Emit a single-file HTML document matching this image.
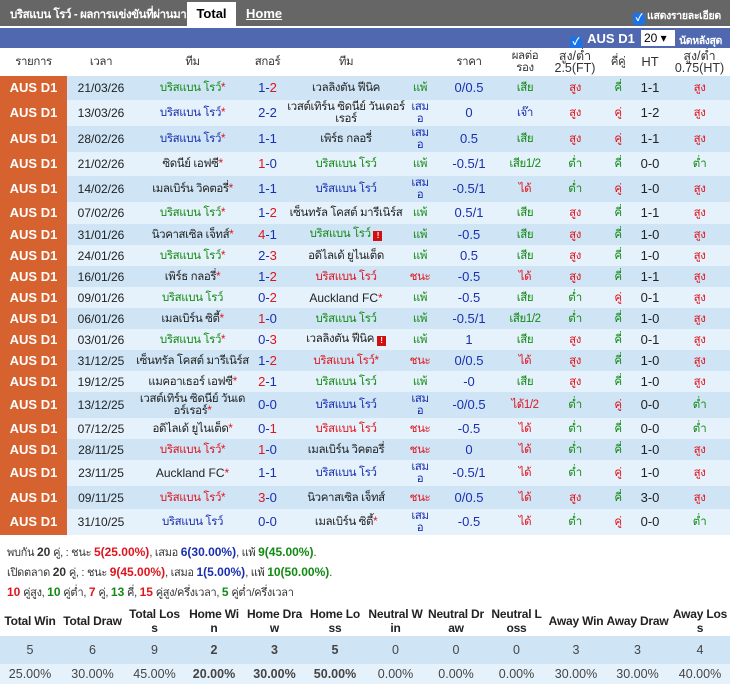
<!DOCTYPE html>
<html><head><meta charset="utf-8"><style>
*{margin:0;padding:0;box-sizing:border-box}
body{width:730px;height:684px;background:#fff;font-family:"Liberation Sans","Noto Sans CJK SC",sans-serif;font-size:11px;color:#222;position:relative;overflow:hidden}
.top{position:absolute;left:0;top:0;width:730px;height:26px;background:#666;color:#fff}
.top .t{position:absolute;left:10px;top:6px;font-size:11.5px;font-weight:bold;white-space:nowrap;letter-spacing:-0.4px}
.tab1{position:absolute;left:187px;top:2px;width:49px;height:24px;background:#fff;color:#000;font-weight:bold;font-size:13px;text-align:center;line-height:24px}
.tab2{position:absolute;left:246px;top:6px;color:#fff;font-weight:bold;font-size:13px;text-decoration:underline}
.chk{display:inline-block;width:12px;height:12px;background:#1a73e8;border-radius:2px;color:#fff;font-size:10px;line-height:12px;text-align:center;vertical-align:-2px;margin-right:2px}
.blue{position:absolute;left:0;top:28px;width:730px;height:20px;background:#5068b0;color:#fff;font-weight:bold}
table.m{position:absolute;left:0;top:48px;width:730px;border-collapse:collapse;table-layout:fixed}
table.m td{text-align:center;padding:0;line-height:12px;overflow:hidden;font-size:11.5px;letter-spacing:-0.4px}
.h td{height:28px;background:#fff;color:#333}
table.m td.lg{background:#d5622f;color:#fff;font-weight:bold;font-size:13px;letter-spacing:0}
tr.a td{background:#cfe5f5}tr.b td{background:#e6f2fb}
table.m td.n{font-size:13px;letter-spacing:0}
.g{color:#138a13}.r{color:#e0141e}.bl{color:#1a2fb0}.k{color:#222}
.st{color:#e0141e}
.ex{display:inline-block;width:9px;height:10px;background:#d01010;color:#fff;font-size:8px;line-height:10px;font-weight:bold;vertical-align:-1px}
.sum{position:absolute;left:7px;font-size:11px;color:#333;letter-spacing:-0.3px;white-space:nowrap}
.sum b{font-weight:bold;font-size:12px;letter-spacing:0}
table.s{position:absolute;left:0;top:606px;width:730px;border-collapse:collapse;table-layout:fixed}
table.s td{text-align:center;line-height:14px;font-size:12.5px;color:#444}
table.s tr.hh td{font-weight:bold;color:#222;font-size:12px;letter-spacing:-0.2px}
</style></head><body>
<div class="top"><span class="t">บริสแบน โรว์ - ผลการแข่งขันที่ผ่านมา</span><div class="tab1">Total</div><div class="tab2">Home</div>
<span style="position:absolute;left:633px;top:7px;font-size:10.5px;font-weight:bold;white-space:nowrap;letter-spacing:-0.3px"><span class="chk">✓</span>แสดงรายละเอียด</span></div>
<div class="blue"><span style="position:absolute;left:570px;top:3px;font-size:13px"><span class="chk">✓</span> AUS D1</span>
<span style="position:absolute;left:641px;top:2px;width:34px;height:16px;background:#fff;color:#000;font-weight:normal;font-size:12px;padding-left:3px;line-height:16px">20 ▾</span>
<span style="position:absolute;left:679px;top:4px;font-size:10.5px;white-space:nowrap;letter-spacing:-0.4px">นัดหลังสุด</span></div>
<table class="m">
<colgroup><col style="width:67px"><col style="width:68px"><col style="width:115px"><col style="width:35px"><col style="width:122px"><col style="width:26px"><col style="width:72px"><col style="width:40px"><col style="width:60px"><col style="width:26px"><col style="width:38px"><col style="width:61px"></colgroup>
<tr class="h"><td>รายการ</td><td>เวลา</td><td>ทีม</td><td>สกอร์</td><td>ทีม</td><td></td><td>ราคา</td><td>ผลต่อรอง</td><td class="n" style="font-size:12.5px">สูง/ต่ำ 2.5(FT)</td><td>คี่คู่</td><td class="n">HT</td><td class="n" style="font-size:12.5px">สูง/ต่ำ 0.75(HT)</td></tr>
<tbody id="rows"></tbody>
</table>
<div class="sum" style="top:543px">พบกัน <b>20</b> คู่, : ชนะ <b class="r">5(25.00%)</b>, เสมอ <b class="bl">6(30.00%)</b>, แพ้ <b class="g">9(45.00%)</b>.</div>
<div class="sum" style="top:563px">เปิดตลาด <b>20</b> คู่, : ชนะ <b class="r">9(45.00%)</b>, เสมอ <b class="bl">1(5.00%)</b>, แพ้ <b class="g">10(50.00%)</b>.</div>
<div class="sum" style="top:583px"><b class="r">10</b> คู่สูง, <b class="g">10</b> คู่ต่ำ, <b class="r">7</b> คู่, <b class="g">13</b> คี่, <b class="r">15</b> คู่สูง/ครึ่งเวลา, <b class="g">5</b> คู่ต่ำ/ครึ่งเวลา</div>
<table class="s">
<colgroup><col style="width:60px"><col style="width:65px"><col style="width:59px"><col style="width:60px"><col style="width:61px"><col style="width:60px"><col style="width:61px"><col style="width:60px"><col style="width:61px"><col style="width:58px"><col style="width:65px"><col style="width:60px"></colgroup>
<tr class="hh" style="height:30px"><td style="white-space:nowrap">Total Win</td><td style="white-space:nowrap">Total Draw</td><td>Total Los s</td><td>Home Wi n</td><td>Home Dra w</td><td>Home Lo ss</td><td>Neutral W in</td><td>Neutral Dr aw</td><td>Neutral L oss</td><td style="white-space:nowrap">Away Win</td><td style="white-space:nowrap">Away Draw</td><td>Away Los s</td></tr>
<tr style="height:28px;background:#cfe5f5"><td>5</td><td>6</td><td>9</td><td class="bl"><b>2</b></td><td class="bl"><b>3</b></td><td class="bl"><b>5</b></td><td>0</td><td>0</td><td>0</td><td>3</td><td>3</td><td>4</td></tr>
<tr style="height:20px;background:#e6f2fb"><td>25.00%</td><td>30.00%</td><td>45.00%</td><td class="bl"><b>20.00%</b></td><td class="bl"><b>30.00%</b></td><td class="bl"><b>50.00%</b></td><td>0.00%</td><td>0.00%</td><td>0.00%</td><td>30.00%</td><td>30.00%</td><td>40.00%</td></tr>
</table>
<script>
var B="บริสแบน โรว์";
var d=[
[24,"21/03/26",B+"*","g","1-2","เวลลิงตัน ฟีนิค","k","แพ้","0/0.5","เสีย","สูง","คี่","1-1","สูง"],
[26,"13/03/26",B+"*","bl","2-2","เวสต์เทิร์น ซิดนีย์ วันเดอร์เรอร์","k","เสมอ","0","เจ๊า","สูง","คู่","1-2","สูง"],
[26,"28/02/26",B+"*","bl","1-1","เพิร์ธ กลอรี่","k","เสมอ","0.5","เสีย","สูง","คู่","1-1","สูง"],
[24,"21/02/26","ซิดนีย์ เอฟซี*","k","1-0",B,"g","แพ้","-0.5/1","เสีย1/2","ต่ำ","คี่","0-0","ต่ำ"],
[26,"14/02/26","เมลเบิร์น วิคตอรี่*","k","1-1",B,"bl","เสมอ","-0.5/1","ได้","ต่ำ","คู่","1-0","สูง"],
[22,"07/02/26",B+"*","g","1-2","เซ็นทรัล โคสต์ มารีเนิร์ส","k","แพ้","0.5/1","เสีย","สูง","คี่","1-1","สูง"],
[21,"31/01/26","นิวคาสเซิล เจ็ทส์*","k","4-1",B+" !","g","แพ้","-0.5","เสีย","สูง","คี่","1-0","สูง"],
[21,"24/01/26",B+"*","g","2-3","อดิไลเด้ ยูไนเต็ด","k","แพ้","0.5","เสีย","สูง","คี่","1-0","สูง"],
[21,"16/01/26","เพิร์ธ กลอรี่*","k","1-2",B,"r","ชนะ","-0.5","ได้","สูง","คี่","1-1","สูง"],
[21,"09/01/26",B,"g","0-2","Auckland FC*","k","แพ้","-0.5","เสีย","ต่ำ","คู่","0-1","สูง"],
[21,"06/01/26","เมลเบิร์น ซิตี้*","k","1-0",B,"g","แพ้","-0.5/1","เสีย1/2","ต่ำ","คี่","1-0","สูง"],
[21,"03/01/26",B+"*","g","0-3","เวลลิงตัน ฟีนิค !","k","แพ้","1","เสีย","สูง","คี่","0-1","สูง"],
[21,"31/12/25","เซ็นทรัล โคสต์ มารีเนิร์ส","k","1-2",B+"*","r","ชนะ","0/0.5","ได้","สูง","คี่","1-0","สูง"],
[21,"19/12/25","แมคอาเธอร์ เอฟซี*","k","2-1",B,"g","แพ้","-0","เสีย","สูง","คี่","1-0","สูง"],
[26,"13/12/25","เวสต์เทิร์น ซิดนีย์ วันเดอร์เรอร์*","k","0-0",B,"bl","เสมอ","-0/0.5","ได้1/2","ต่ำ","คู่","0-0","ต่ำ"],
[21,"07/12/25","อดิไลเด้ ยูไนเต็ด*","k","0-1",B,"r","ชนะ","-0.5","ได้","ต่ำ","คี่","0-0","ต่ำ"],
[21,"28/11/25",B+"*","r","1-0","เมลเบิร์น วิคตอรี่","k","ชนะ","0","ได้","ต่ำ","คี่","1-0","สูง"],
[26,"23/11/25","Auckland FC*","k","1-1",B,"bl","เสมอ","-0.5/1","ได้","ต่ำ","คู่","1-0","สูง"],
[23,"09/11/25",B+"*","r","3-0","นิวคาสเซิล เจ็ทส์","k","ชนะ","0/0.5","ได้","สูง","คี่","3-0","สูง"],
[26,"31/10/25",B,"bl","0-0","เมลเบิร์น ซิตี้*","k","เสมอ","-0.5","ได้","ต่ำ","คู่","0-0","ต่ำ"]];
function team(t,c){var s=t.replace("*",'<span class="st">*</span>').replace(" !",' <span class="ex">!</span>');var n=/Auckland/.test(t)?' style="font-size:12px;letter-spacing:0"':'';return '<td class="'+c+'"'+n+'>'+s+'</td>';}
function sc(s){var p=s.split("-"),a=+p[0],b=+p[1];var ca=a>b?"r":"bl",cb=b>a?"r":"bl";return '<td class="n"><span class="'+ca+'">'+a+'</span><span class="bl">-</span><span class="'+cb+'">'+b+'</span></td>';}
var rc={"แพ้":"g","ชนะ":"r","เสมอ":"bl"},hc={"เสีย":"g","เสีย1/2":"g","ได้":"r","ได้1/2":"r","เจ๊า":"bl"},oc={"สูง":"r","ต่ำ":"g"},ec={"คี่":"g","คู่":"r"};
var h="";d.forEach(function(r,i){var res=r[7]=="เสมอ"?"เสม อ":r[7];h+='<tr class="'+(i%2?"b":"a")+'" style="height:'+r[0]+'px"><td class="lg">AUS D1</td><td class="n" style="font-size:12px">'+r[1]+'</td>'+team(r[2],r[3])+sc(r[4])+team(r[5],r[6])+'<td class="'+rc[r[7]]+'">'+res+'</td><td class="bl n">'+r[8]+'</td><td class="'+hc[r[9]]+'">'+r[9]+'</td><td class="'+oc[r[10]]+'">'+r[10]+'</td><td class="'+ec[r[11]]+'">'+r[11]+'</td><td class="n">'+r[12]+'</td><td class="'+oc[r[13]]+'">'+r[13]+'</td></tr>';});
document.getElementById("rows").innerHTML=h;
</script>
</body></html>
